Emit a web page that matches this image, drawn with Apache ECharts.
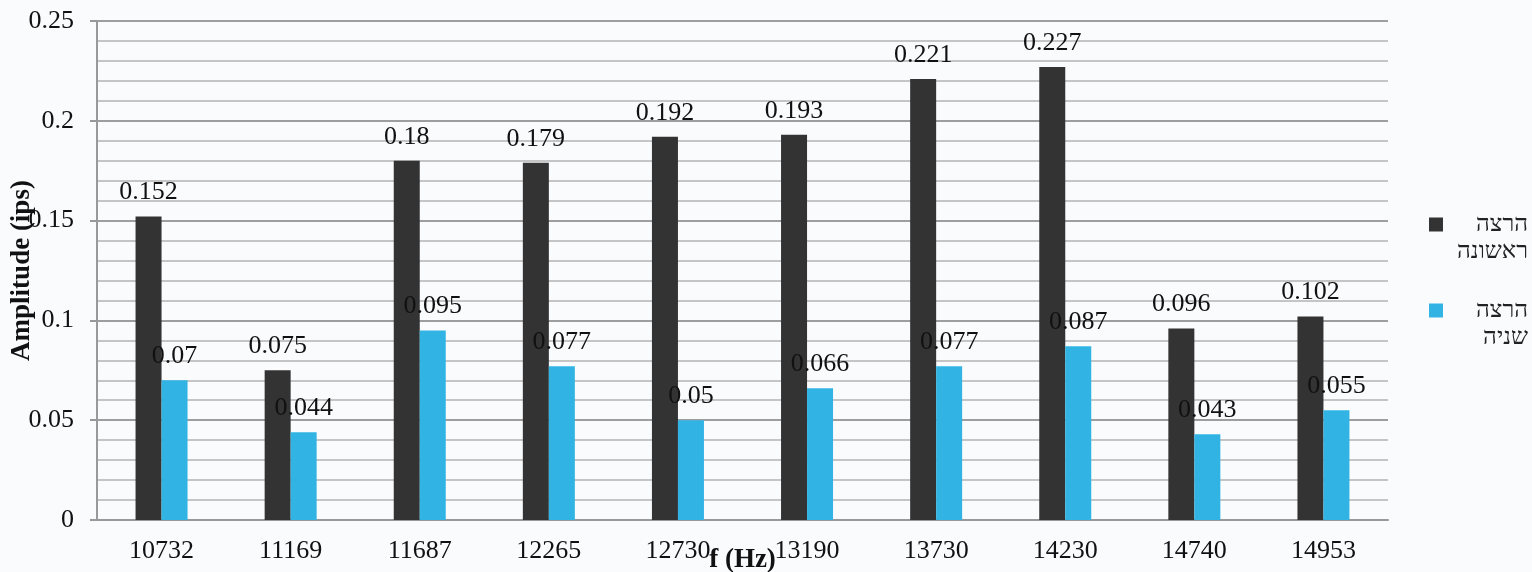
<!DOCTYPE html>
<html><head><meta charset="utf-8">
<script src="https://cdn.jsdelivr.net/npm/echarts@6/dist/echarts.min.js"></script>
<style>html,body{margin:0;padding:0;background:#fafbfd}#c{width:1532px;height:572px}</style>
</head><body><div id="c"></div>
<script>
const categories = ['10732','11169','11687','12265','12730','13190','13730','14230','14740','14953'];
const seriesNames = ['הרצה ראשונה', 'הרצה שניה'];
const firstRun = [0.152, 0.075, 0.18, 0.179, 0.192, 0.193, 0.221, 0.227, 0.096, 0.102];
const secondRun = [0.07, 0.044, 0.095, 0.077, 0.05, 0.066, 0.077, 0.087, 0.043, 0.055];
const yTicks = { min: 0, max: 0.25, interval: 0.05 };

const FONT = "'Liberation Serif', 'Times New Roman', serif";
const chart = echarts.init(document.getElementById('c'));
const labelCfg = { show: true, position: 'top', distance: 11, color: '#111', fontFamily: FONT, fontSize: 26 };
chart.setOption({
  backgroundColor: '#fafbfd',
  animation: false,
  grid: { left: 97, right: 144, top: 21, bottom: 52, containLabel: false, outerBoundsMode: 'none' },
  legend: {
    orient: 'vertical', left: 1429, top: 184, itemGap: 5, padding: 0,
    itemWidth: 14, itemHeight: 14, icon: 'rect',
    textStyle: { fontFamily: FONT, fontSize: 24, color: '#222', lineHeight: 27,
      rich: { a: { width: 80, align: 'right', fontFamily: FONT, fontSize: 24, lineHeight: 27, color: '#222' } } },
    formatter: n => '\n' + n.split(' ').map(s => '{a|' + s + '}').join('\n'),
    data: seriesNames
  },
  xAxis: {
    type: 'category', data: categories,
    name: 'f (Hz)', nameLocation: 'middle', nameGap: 27, nameMoveOverlap: false,
    nameTextStyle: { fontFamily: FONT, fontSize: 27, fontWeight: 'bold', color: '#111' },
    axisLine: { lineStyle: { color: '#999', width: 2 } },
    axisTick: { show: false },
    axisLabel: { fontFamily: FONT, fontSize: 26, color: '#111', margin: 18 }
  },
  yAxis: {
    type: 'value', min: yTicks.min, max: yTicks.max, interval: yTicks.interval,
    name: 'Amplitude (ips)', nameLocation: 'middle', nameGap: 61, nameMoveOverlap: false,
    nameTextStyle: { fontFamily: FONT, fontSize: 27, fontWeight: 'bold', color: '#111' },
    axisLine: { show: true, lineStyle: { color: '#999', width: 2 } },
    axisTick: { show: true, length: 7, lineStyle: { color: '#999', width: 2 } },
    axisLabel: { fontFamily: FONT, fontSize: 26, color: '#111', margin: 23 },
    splitLine: { show: true, lineStyle: { color: '#9e9e9e', width: 2 } },
    minorTick: { show: false, splitNumber: 5 },
    minorSplitLine: { show: true, lineStyle: { color: '#b4b4b4', width: 1.5 } }
  },
  series: [
    { name: seriesNames[0], type: 'bar', data: firstRun, barWidth: 26, barGap: '0%',
      itemStyle: { color: '#333333' }, label: labelCfg },
    { name: seriesNames[1], type: 'bar', data: secondRun, barWidth: 26, barGap: '0%',
      itemStyle: { color: '#31b4e4' }, label: labelCfg }
  ]
});
</script></body></html>
